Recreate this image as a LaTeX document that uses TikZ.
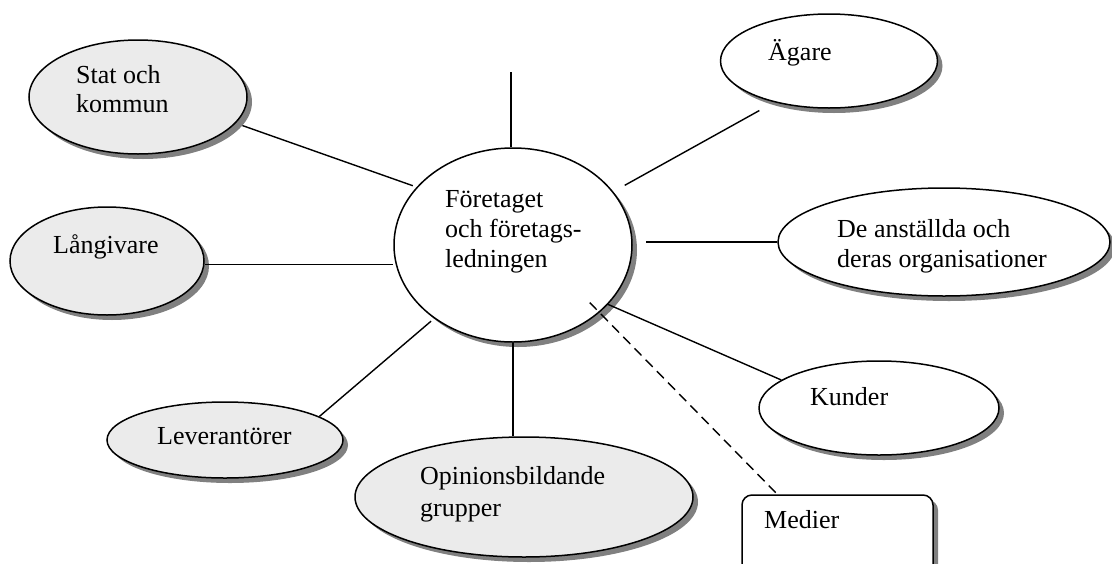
\documentclass[tikz,border=0pt]{standalone}
\usepackage{fontspec}
\setmainfont{Liberation Serif}
\usetikzlibrary{shapes.geometric,shadows,calc}

\tikzset{
  shade off/.style={drop shadow={shadow xshift=5pt, shadow yshift=-5pt, opacity=1, fill=black!50}},
  oval/.style={ellipse, draw=black, line width=1.5pt, inner sep=0pt, shade off},
  grayoval/.style={oval, fill=black!8},
  whiteoval/.style={oval, fill=white},
  notebox/.style={rectangle, rounded corners=10pt, draw=black, line width=1.5pt, fill=white, inner sep=0pt, shade off},
  % positioned by the baseline of the last line
  caption/.style={anchor=base west, align=left, inner sep=0pt, font=\fontsize{26}{30}\selectfont},
  link/.style={line width=1.4pt}
}

\begin{document}
\begin{tikzpicture}[x=1pt, y=-1pt]
\path[use as bounding box] (0,0) rectangle (1112,563);
\clip (0,0) rectangle (1112,563);

% the company in the middle
\node[whiteoval, minimum width=238pt, minimum height=194pt] (C) at (513,245) {};

% stakeholders around it
\node[grayoval,  minimum width=218pt, minimum height=114pt] (S)   at (138,97)  {};
\node[whiteoval, minimum width=217pt, minimum height=94pt]  (A)   at (829,61)  {};
\node[grayoval,  minimum width=194pt, minimum height=108pt] (L)   at (107,261) {};
\node[whiteoval, minimum width=332pt, minimum height=108pt] (D)   at (944,242) {};
\node[grayoval,  minimum width=236pt, minimum height=76pt]  (Lev) at (225,440) {};
\node[whiteoval, minimum width=240pt, minimum height=94pt]  (K)   at (879,408) {};
\node[grayoval,  minimum width=338pt, minimum height=120pt] (O)   at (524,497) {};
\node[notebox,   minimum width=191pt, minimum height=100pt] (M)   at (837.5,545) {};

% texts
\node[caption] (Ct)   at (445,267) {Företaget\\och företags-\\ledningen};
\node[caption, font=\fontsize{26}{29}\selectfont] (St) at (76,112) {Stat och\\kommun};
\node[caption] (At)   at (768,60)  {Ägare};
\node[caption] (Lt)   at (53,253)  {Långivare};
\node[caption] (Dt)   at (837,267) {De anställda och\\deras organisationer};
\node[caption] (Levt) at (157,444) {Leverantörer};
\node[caption] (Kt)   at (810,405) {Kunder};
\node[caption, font=\fontsize{26}{32}\selectfont] (Ot) at (420,516) {Opinionsbildande\\grupper};
\node[caption] (Mt)   at (764,528) {Medier};

% connectors
\coordinate (topend) at (511,72);
\draw[link] (topend) -- (topend |- C.north);
\draw[link] (C.south) -- (C.south |- O.north);
\draw[link, shorten <=7pt, shorten >=4pt] (S.-15) -- (C.149);
\draw[link] (L.-2) -- (L.-2 -| C.west);
\draw[link, shorten >=4pt] (Lev.14) -- (C.223);
\draw[link, shorten <=13pt, shorten >=17pt] (C.28) -- (A.217);
\draw[link, shorten >=13pt] (D.west) -- (D.west -| C.east);
\draw[link] (C.-32) -- (K.164);
\draw[link, dash pattern=on 10pt off 6pt, shorten <=-14pt] (C.-38) -- ([xshift=36pt]M.north west);
\end{tikzpicture}
\end{document}
